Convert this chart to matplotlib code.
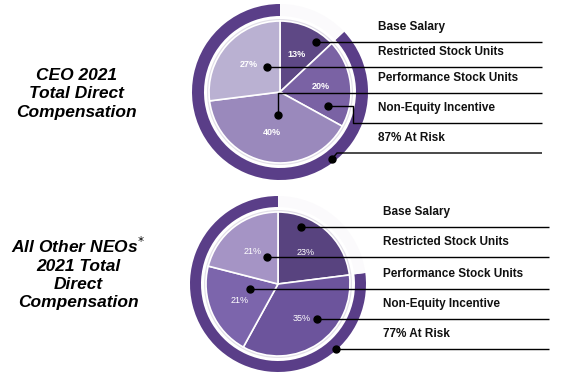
import matplotlib.pyplot as plt

plt.rcParams["font.family"] = ["Liberation Sans", "DejaVu Sans"]

# CEO 2021 mix, clockwise from 12 o'clock
ceo_parts = ["Base Salary", "Non-Equity Incentive", "Performance Stock Units", "Restricted Stock Units"]
ceo_share = [13, 20, 40, 27]
ceo_colors = ["#5e4885", "#7a62a4", "#9a89bc", "#bab1d2"]
ceo_at_risk = 87

# All other NEOs 2021 mix, clockwise from 12 o'clock
neo_parts = ["Base Salary", "Non-Equity Incentive", "Performance Stock Units", "Restricted Stock Units"]
neo_share = [23, 35, 21, 21]
neo_colors = ["#58437f", "#6c549c", "#7c65ac", "#a594c5"]
neo_at_risk = 77

legend_order = ["Base Salary", "Restricted Stock Units", "Performance Stock Units",
                "Non-Equity Incentive"]

RING = "#5a3e88"
H = 377


def draw_block(ax, center, share, colors, at_risk, r_pie, r_ring, pct_bold):
    cx, cy = center
    base = share[0]
    # outer "at risk" ring, starts where base salary ends
    ax.pie([at_risk, 100 - at_risk], center=(cx, cy), radius=r_ring,
           startangle=90 - base * 3.6, counterclock=False,
           colors=[RING, "#fbfafc"],
           wedgeprops=dict(width=r_ring - r_pie - 5, linewidth=0))
    # white/grey rim between pie and ring
    ax.pie([1], center=(cx, cy), radius=r_pie + 2, colors=["#e2dfe8"],
           wedgeprops=dict(linewidth=0))
    _, _, pcts = ax.pie(share, center=(cx, cy), radius=r_pie, startangle=90,
                        counterclock=False, colors=colors,
                        autopct="%d%%", pctdistance=0.58,
                        wedgeprops=dict(edgecolor="white", linewidth=1.2))
    for t in pcts:
        t.set_color("white")
        t.set_fontsize(6.5)
        t.set_fontweight("bold" if pct_bold else "normal")


def leader(ax, pts, label, lbl_x, end_x):
    # pts in image pixel coords (y down)
    xs = [p[0] for p in pts] + [end_x]
    ys = [H - p[1] for p in pts] + [H - pts[-1][1]]
    ax.plot(xs, ys, color="black", lw=1.0, solid_capstyle="butt", zorder=5)
    ax.plot(xs[0], ys[0], "o", color="black", ms=5, zorder=6)
    ax.text(lbl_x, ys[-1] + 9, label, fontsize=8.5, fontweight="bold",
            ha="left", va="bottom", color="#111")


fig = plt.figure(figsize=(5.73, 3.77), dpi=100)
fig.patch.set_facecolor("white")
ax = fig.add_axes([0, 0, 1, 1])

draw_block(ax, (280, H - 92), ceo_share, ceo_colors, ceo_at_risk, 71, 88, True)
draw_block(ax, (278, H - 284), neo_share, neo_colors, neo_at_risk, 72, 88, False)

# CEO leaders
top_labels = legend_order + [f"{ceo_at_risk}% At Risk"]
top_paths = [
    [(316, 42)],
    [(267, 67)],
    [(278, 115), (278, 93)],
    [(328, 106), (353, 106), (353, 123)],
    [(332, 159), (337, 153)],
]
for lab, p in zip(top_labels, top_paths):
    leader(ax, p, lab, 378, 542)

# NEO leaders
bot_labels = legend_order + [f"{neo_at_risk}% At Risk"]
bot_paths = [
    [(301, 227)],
    [(267, 257)],
    [(250, 289)],
    [(317, 319)],
    [(336, 349)],
]
for lab, p in zip(bot_labels, bot_paths):
    leader(ax, p, lab, 383, 549)

title_font = dict(fontsize=12.5, fontweight="bold", fontstyle="italic",
                  ha="center", va="center", linespacing=1.25)
ax.text(76, H - 94, "CEO 2021\nTotal Direct\nCompensation", **title_font)
ax.text(78, H - 273, "All Other NEOs$^{*}$\n2021 Total\nDirect\nCompensation",
        **title_font)

ax.set_xlim(0, 573)
ax.set_ylim(0, H)
ax.set_aspect("equal")
ax.axis("off")

fig.savefig("out.png", dpi=100, facecolor="white")
